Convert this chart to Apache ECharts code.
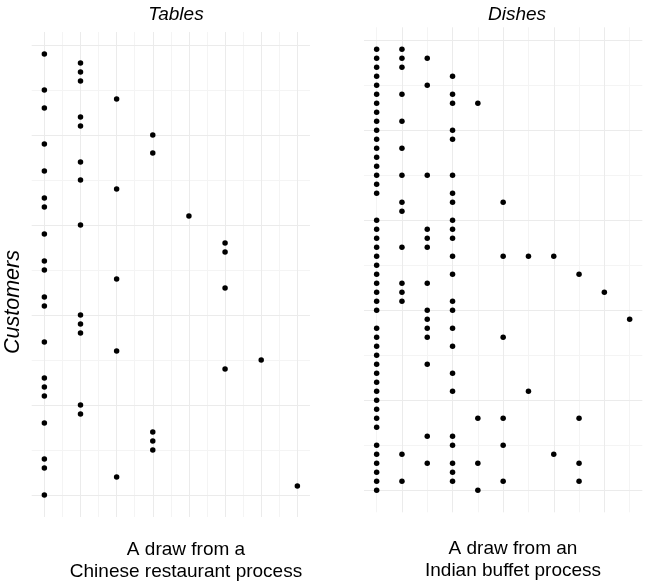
<!DOCTYPE html>
<html>
<head>
<meta charset="utf-8">
<script src="https://cdn.jsdelivr.net/npm/echarts@6/dist/echarts.min.js"></script>
<style>
  html, body { margin: 0; padding: 0; background: #fff; }
</style>
</head>
<body>
<div id="main" style="width: 664px;height:582px;"></div>
<script type="text/javascript">

    // table chosen by each customer (customer 1 first)
    var tableOfCustomer = [1,2,2,2,1,3,1,2,2,4,1,4,2,1,2,3,1,1,5,2,1,6,6,1,1,
                           3,6,1,1,2,2,2,1,3,7,6,1,1,1,2,2,1,4,4,4,1,1,3,8,1];

    // dishes taken by each customer
    var dishesOfCustomer = [
        [1,2],[1,2,3],[1,2],[1,4],[1,3],[1,2,4],[1,4,5],[1],[1,2],[1,4],
        [1,4],[1,2],[1],[1],[1,2,3,4],[1],[1,4],[2,4,6],[2],[1,4],
        [1,3,4],[1,3,4],[1,2,3],[1,4,6,7,8],[1],[1,4,9],[1,2,3],[1,2,10],[1,2,4],[1,3,4],
        [3,11],[1,3,4],[1,3,6],[1,4],[1],[1,3],[1,4],[1],[1,4,7],[1],
        [1],[1,5,6,9],[1],[3,4],[1,4,6],[1,2,8],[1,3,4,5,9],[1,4],[1,2,4,6,9],[1,5]
    ];

    // grid line positions
    var tableMajor = [1,2,3,4,5,6,7,8];
    var tableMinor = [1.5,2.5,3.5,4.5,5.5,6.5,7.5];
    var dishMajor = [2,4,6,8,10];
    var dishMinor = [1,3,5,7,9,11];
    var custMajor = [0,10,20,30,40,50];
    var custMinor = [5,15,25,35,45];

    var tableData = [];
    for (var i = 0; i < tableOfCustomer.length; i++) {
        tableData.push([tableOfCustomer[i], i + 1]);
    }
    var dishData = [];
    for (var i = 0; i < dishesOfCustomer.length; i++) {
        for (var j = 0; j < dishesOfCustomer[i].length; j++) {
            dishData.push([dishesOfCustomer[i][j], i + 1]);
        }
    }

    var majorStyle = {color: '#ebebeb', width: 1, type: 'solid'};
    var minorStyle = {color: '#f4f4f4', width: 1, type: 'solid'};

    function gridLines(xMaj, xMin, yMaj, yMin) {
        var d = [];
        xMin.forEach(function (v) { d.push({xAxis: v, lineStyle: minorStyle}); });
        yMin.forEach(function (v) { d.push({yAxis: v, lineStyle: minorStyle}); });
        xMaj.forEach(function (v) { d.push({xAxis: v, lineStyle: majorStyle}); });
        yMaj.forEach(function (v) { d.push({yAxis: v, lineStyle: majorStyle}); });
        return d;
    }

    var hiddenAxis = {
        axisLine: {show: false}, axisTick: {show: false},
        axisLabel: {show: false}, splitLine: {show: false}
    };

    var myChart = echarts.init(document.getElementById('main'));

    var option = {
        animation: false,
        grid: [
            {left: 31.7, top: 32, width: 278.3, height: 485, outerBoundsMode: 'none', containLabel: false},
            {left: 364, top: 27.3, width: 278.3, height: 485, outerBoundsMode: 'none', containLabel: false}
        ],
        xAxis: [
            Object.assign({type: 'value', gridIndex: 0, min: 0.65, max: 8.35}, hiddenAxis),
            Object.assign({type: 'value', gridIndex: 1, min: 0.5, max: 11.5}, hiddenAxis)
        ],
        yAxis: [
            Object.assign({type: 'value', gridIndex: 0, min: -1.45, max: 52.45, inverse: true}, hiddenAxis),
            Object.assign({type: 'value', gridIndex: 1, min: -1.45, max: 52.45, inverse: true}, hiddenAxis)
        ],
        graphic: [
            {type: 'text', x: 176, y: 15, style: {text: 'Tables', fontFamily: 'Liberation Sans', fontStyle: 'italic',
                fontSize: 19, fill: '#000', textAlign: 'center', textVerticalAlign: 'middle'}},
            {type: 'text', x: 517, y: 15, style: {text: 'Dishes', fontFamily: 'Liberation Sans', fontStyle: 'italic',
                fontSize: 19, fill: '#000', textAlign: 'center', textVerticalAlign: 'middle'}},
            {type: 'text', x: 13, y: 302, rotation: Math.PI / 2, style: {text: 'Customers', fontFamily: 'Liberation Sans',
                fontStyle: 'italic', fontSize: 21.5, fill: '#000', textAlign: 'center', textVerticalAlign: 'middle'}},
            {type: 'text', x: 186, y: 561, style: {text: 'A draw from a\nChinese restaurant process',
                fontFamily: 'Liberation Sans', fontSize: 19, lineHeight: 22.5, fill: '#000',
                textAlign: 'center', textVerticalAlign: 'middle'}},
            {type: 'text', x: 513, y: 560, style: {text: 'A draw from an\nIndian buffet process',
                fontFamily: 'Liberation Sans', fontSize: 19, lineHeight: 22.5, fill: '#000',
                textAlign: 'center', textVerticalAlign: 'middle'}}
        ],
        series: [
            {
                type: 'scatter', xAxisIndex: 0, yAxisIndex: 0, data: [], z: 1, silent: true,
                markLine: {silent: true, symbol: 'none', label: {show: false},
                    data: gridLines(tableMajor, tableMinor, custMajor, custMinor)}
            },
            {
                type: 'scatter', xAxisIndex: 1, yAxisIndex: 1, data: [], z: 1, silent: true,
                markLine: {silent: true, symbol: 'none', label: {show: false},
                    data: gridLines(dishMajor, dishMinor, custMajor, custMinor)}
            },
            {
                type: 'scatter', xAxisIndex: 0, yAxisIndex: 0, data: tableData, z: 5,
                symbolSize: 5.5, itemStyle: {color: '#000', opacity: 1}
            },
            {
                type: 'scatter', xAxisIndex: 1, yAxisIndex: 1, data: dishData, z: 5,
                symbolSize: 5.5, itemStyle: {color: '#000', opacity: 1}
            }
        ]
    };

    myChart.setOption(option);
</script>
</body>
</html>
